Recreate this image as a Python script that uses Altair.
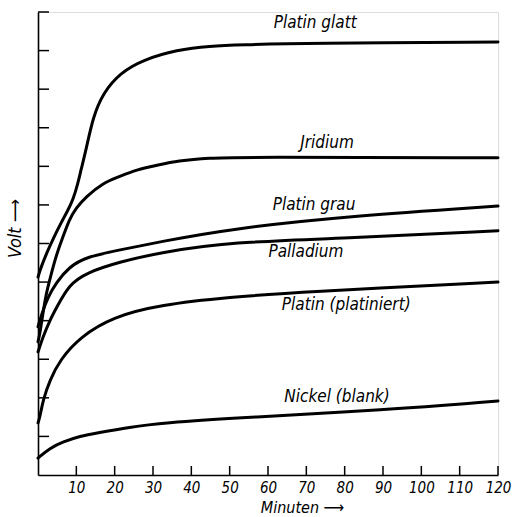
import altair as alt
import pandas as pd

# --- data (minutes, volt in axis units) ---
glatt_t = [0, 0.78, 2.61, 4.17, 6.0, 7.83, 9.13, 10.44, 11.22, 12.52, 14.35, 16.96, 21.39, 27.39, 36.26, 44.87, 52.7, 70, 120]
glatt_v = [5.13, 5.39, 5.83, 6.17, 6.53, 6.87, 7.13, 7.57, 7.91, 8.42, 9.28, 9.90, 10.42, 10.76, 11.02, 11.12, 11.15, 11.19, 11.22]

jrid_t = [0, 0.52, 1.30, 2.09, 2.87, 3.91, 5.22, 6.52, 8.09, 9.91, 12.52, 16.96, 21.13, 25.57, 31.57, 36.26, 44.87, 52.7, 120]
jrid_v = [3.45, 3.68, 4.20, 4.67, 4.98, 5.39, 5.83, 6.17, 6.61, 6.92, 7.21, 7.57, 7.73, 7.91, 8.04, 8.14, 8.22, 8.24, 8.22]

grau_t = [0, 1.04, 2.61, 4.70, 8.09, 12.52, 21.13, 31.57, 50.1, 81.4, 120]
grau_v = [3.84, 4.20, 4.61, 4.98, 5.39, 5.65, 5.83, 6.04, 6.38, 6.71, 6.97]

pall_t = [0, 1.30, 3.13, 4.96, 8.09, 12.52, 21.13, 31.57, 50.1, 81.4, 120]
pall_v = [3.19, 3.58, 4.02, 4.36, 4.93, 5.24, 5.52, 5.76, 6.04, 6.14, 6.33]

plat_t = [0, 0.5, 1.3, 3.1, 5.7, 11.0, 19.6, 31.8, 50.1, 68.4, 120]
plat_v = [1.35, 1.50, 1.94, 2.46, 2.98, 3.58, 4.10, 4.41, 4.61, 4.74, 5.00]

nick_t = [0, 3.1, 6.5, 11.0, 15.4, 24.0, 31.8, 55.3, 90, 120]
nick_v = [0.44, 0.70, 0.86, 1.01, 1.09, 1.24, 1.35, 1.50, 1.68, 1.92]

label_text = ["Platin glatt", "Jridium", "Platin grau", "Palladium", "Platin (platiniert)", "Nickel (blank)"]
label_t = [72.3, 75.4, 72.0, 69.9, 80.4, 78.0]
label_v = [11.72, 8.6, 7.0, 5.78, 4.41, 2.02]

x_ticks = [10, 20, 30, 40, 50, 60, 70, 80, 90, 100, 110, 120]
y_ticks = [1, 2, 3, 4, 5, 6, 7, 8, 9, 10, 11, 12]

# --- tables ---
rows = []
for name, ts, vs in [("glatt", glatt_t, glatt_v), ("jrid", jrid_t, jrid_v),
                     ("grau", grau_t, grau_v), ("pall", pall_t, pall_v),
                     ("plat", plat_t, plat_v), ("nick", nick_t, nick_v)]:
    for t, v in zip(ts, vs):
        rows.append({"series": name, "t": t, "v": v})
curves = pd.DataFrame(rows)
labels = pd.DataFrame({"text": label_text, "t": label_t, "v": label_v})
xt = pd.DataFrame({"t": x_ticks})
yt = pd.DataFrame({"v": y_ticks})

W, H = 460, 463
FONT = "Liberation Sans Narrow, DejaVu Sans Condensed, Liberation Sans"

xscale = alt.Scale(domain=[0, 120], nice=False, zero=False)
yscale = alt.Scale(domain=[0, 12], nice=False, zero=False)

xaxis = alt.Axis(values=x_ticks, ticks=False, grid=False, domainColor="black", domainWidth=1.6,
                 labelFont=FONT, labelFontStyle="italic", labelFontSize=15, labelColor="black",
                 labelPadding=5, labelOverlap=False, labelFlush=False,
                 title="Minuten ⟶", titleFont=FONT, titleFontStyle="italic",
                 titleFontWeight="normal", titleFontSize=16, titleColor="black",
                 titleX=264, titleY=32, titleAlign="center", titleBaseline="middle")
yaxis = alt.Axis(labels=False, ticks=False, grid=False, domainColor="black", domainWidth=1.6,
                 title="Volt ⟶", titleFont=FONT, titleFontStyle="italic", titleFontWeight="normal",
                 titleFontSize=18, titleColor="black", titleAngle=270, titleX=-23, titleY=216,
                 titleAlign="center", titleBaseline="middle")

lines = alt.Chart(curves).mark_line(color="black", strokeWidth=3, interpolate="basis",
                                    strokeCap="round").encode(
    x=alt.X("t:Q", scale=xscale, axis=xaxis),
    y=alt.Y("v:Q", scale=yscale, axis=yaxis),
    detail="series:N",
)

xtick = alt.Chart(xt).mark_rule(color="black", strokeWidth=1.5).encode(
    x=alt.X("t:Q", scale=xscale), y=alt.value(H), y2=alt.value(H - 9))
ytick = alt.Chart(yt).mark_rule(color="black", strokeWidth=1.5).encode(
    y=alt.Y("v:Q", scale=yscale), x=alt.value(0), x2=alt.value(11))

text = alt.Chart(labels).mark_text(font=FONT, fontStyle="italic", fontSize=17, color="black",
                                   align="center", baseline="middle").encode(
    x=alt.X("t:Q", scale=xscale), y=alt.Y("v:Q", scale=yscale), text="text:N")

chart = alt.layer(lines, xtick, ytick, text).properties(
    width=W, height=H,
    autosize=alt.AutoSizeParams(type="none"),
    padding={"left": 38, "top": 12, "right": 14, "bottom": 42},
).configure_view(stroke=None).configure(background="white")

chart.save("out.html", embed_options={"renderer": "svg", "actions": False})
